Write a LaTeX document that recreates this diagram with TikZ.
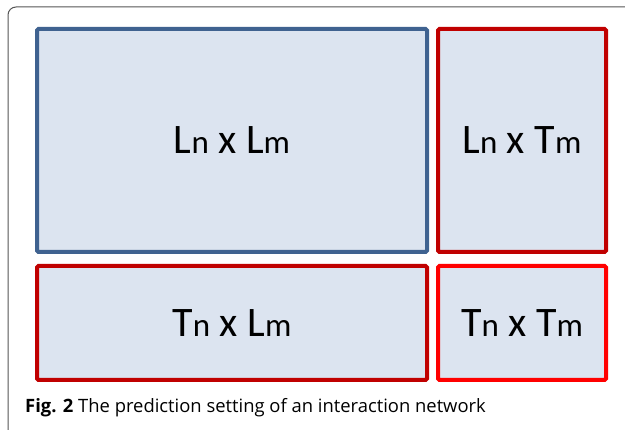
\documentclass[tikz,border=0pt]{standalone}
\usepackage{fontspec}
\setmainfont{Carlito}
\newfontfamily\capfont{Open Sans}
\definecolor{boxfill}{HTML}{DCE4F0}
\definecolor{blueedge}{HTML}{3F6290}
\definecolor{darkred}{HTML}{C00000}
\definecolor{brightred}{HTML}{FF0000}
\definecolor{framegray}{HTML}{555555}
\begin{document}
\begin{tikzpicture}[x=1pt,y=-1pt,
  cell/.style={draw, line width=4pt, fill=boxfill, rounded corners=1.5pt, inner sep=0pt, anchor=north west},
  lab/.style={font=\fontsize{42}{46}\selectfont, text=black}]
\useasboundingbox (0,0) rectangle (625,430);
\fill[white] (0,0) rectangle (625,430);
\draw[framegray, line width=1pt, rounded corners=8pt] (8,432) -- (8,7) -- (627,7);
\node[cell, draw=blueedge, minimum width=390pt, minimum height=223pt] (a) at (35,27) {};
\node[cell, draw=darkred, minimum width=168pt, minimum height=223pt] (b) at (436,27) {};
\node[cell, draw=darkred, minimum width=390pt, minimum height=114pt] (c) at (35,264) {};
\node[cell, draw=brightred, minimum width=168pt, minimum height=114pt] (d) at (436,264) {};
\node[lab] at (a.center) {L{\fontsize{33}{35}\selectfont n} x L{\fontsize{33}{35}\selectfont m}};
\node[lab] at (b.center) {L{\fontsize{33}{35}\selectfont n} x T{\fontsize{33}{35}\selectfont m}};
\node[lab] at (c.center) {T{\fontsize{33}{35}\selectfont n} x L{\fontsize{33}{35}\selectfont m}};
\node[lab] at (d.center) {T{\fontsize{33}{35}\selectfont n} x T{\fontsize{33}{35}\selectfont m}};
\node[anchor=base west, inner sep=0pt, font=\capfont\fontsize{18.4}{22}\selectfont] (cap) at (25,413) {\textbf{Fig. 2} The prediction setting of an interaction network};
\end{tikzpicture}
\end{document}
